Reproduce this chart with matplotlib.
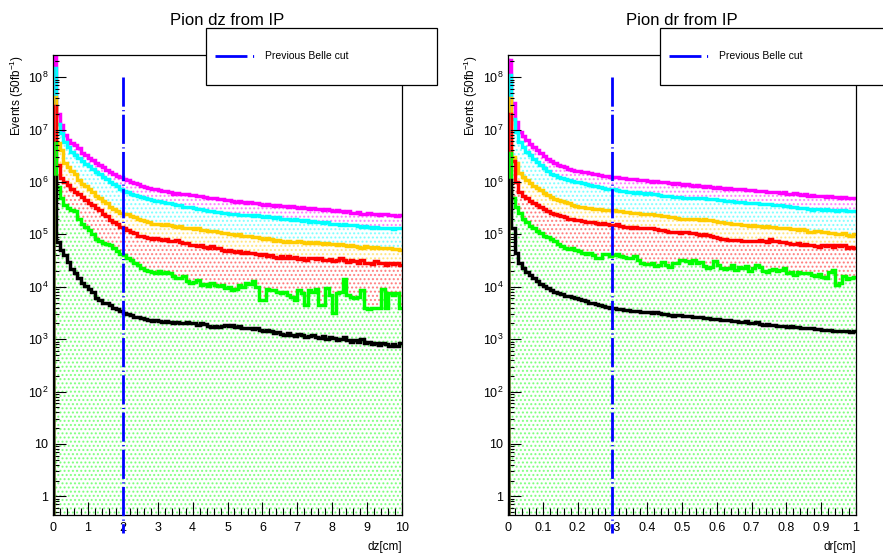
import numpy as np
import matplotlib
matplotlib.use('Agg')
import matplotlib.pyplot as plt
from matplotlib.patches import Rectangle
from matplotlib.lines import Line2D
from matplotlib.ticker import MultipleLocator, FixedLocator, FuncFormatter, NullFormatter

plt.rcParams['font.family'] = ['Liberation Sans', 'DejaVu Sans']
plt.rcParams['mathtext.fontset'] = 'custom'
plt.rcParams['mathtext.rm'] = 'Liberation Sans'
plt.rcParams['mathtext.it'] = 'Liberation Sans:italic'
plt.rcParams['hatch.linewidth'] = 1.0
plt.rcParams['lines.scale_dashes'] = False

# stacked totals per bin (100 bins)
# ---- dz panel, 0..10 cm
dz_magenta = [2.6e8, 2.0e7, 1.2e7, 7.8e6, 6.4e6, 5.5e6, 5.0e6, 4.4e6, 3.6e6, 3.2e6,
              2.9e6, 2.6e6, 2.3e6, 2.1e6, 1.9e6, 1.7e6, 1.55e6, 1.45e6, 1.3e6, 1.25e6,
              1.15e6, 1.07e6, 1.02e6, 9.5e5, 9.1e5, 8.5e5, 8.1e5, 7.8e5, 7.4e5, 7.2e5,
              6.9e5, 6.6e5, 6.6e5, 6.3e5, 6.0e5, 6.2e5, 5.9e5, 5.8e5, 5.9e5, 5.6e5,
              5.7e5, 5.4e5, 5.5e5, 5.2e5, 5.0e5, 4.9e5, 5.0e5, 4.7e5, 4.8e5, 4.5e5,
              4.6e5, 4.4e5, 4.2e5, 4.3e5, 4.1e5, 4.0e5, 4.1e5, 3.9e5, 4.0e5, 3.8e5,
              3.7e5, 3.8e5, 3.6e5, 3.5e5, 3.6e5, 3.5e5, 3.55e5, 3.4e5, 3.45e5, 3.3e5,
              3.2e5, 3.3e5, 3.2e5, 3.1e5, 3.2e5, 3.0e5, 3.1e5, 2.95e5, 3.0e5, 2.9e5,
              2.8e5, 2.9e5, 2.75e5, 2.7e5, 2.75e5, 2.6e5, 2.6e5, 2.65e5, 2.5e5, 2.45e5,
              2.55e5, 2.4e5, 2.45e5, 2.35e5, 2.5e5, 2.4e5, 2.3e5, 2.35e5, 2.25e5, 2.3e5]
dz_cyan = [1.5e8, 1.25e7, 8.5e6, 5.8e6, 4.6e6, 3.7e6, 3.3e6, 2.9e6, 2.5e6, 2.2e6,
           2.0e6, 1.8e6, 1.55e6, 1.4e6, 1.25e6, 1.12e6, 1.0e6, 9.2e5, 8.4e5, 7.5e5,
           6.8e5, 6.4e5, 6.0e5, 5.6e5, 5.5e5, 5.1e5, 4.9e5, 4.7e5, 4.6e5, 4.4e5,
           4.3e5, 4.1e5, 4.0e5, 3.9e5, 3.8e5, 3.7e5, 3.6e5, 3.4e5, 3.35e5, 3.3e5,
           3.25e5, 3.1e5, 3.0e5, 2.9e5, 2.85e5, 2.8e5, 2.7e5, 2.65e5, 2.6e5, 2.55e5,
           2.5e5, 2.4e5, 2.45e5, 2.35e5, 2.3e5, 2.3e5, 2.3e5, 2.25e5, 2.3e5, 2.2e5,
           2.15e5, 2.2e5, 2.1e5, 2.05e5, 2.1e5, 2.0e5, 2.0e5, 1.95e5, 1.9e5, 1.95e5,
           1.85e5, 1.8e5, 1.85e5, 1.75e5, 1.8e5, 1.72e5, 1.7e5, 1.65e5, 1.7e5, 1.6e5,
           1.58e5, 1.6e5, 1.52e5, 1.55e5, 1.5e5, 1.48e5, 1.5e5, 1.45e5, 1.4e5, 1.43e5,
           1.38e5, 1.35e5, 1.4e5, 1.33e5, 1.35e5, 1.3e5, 1.33e5, 1.28e5, 1.3e5, 1.3e5]
dz_orange = [4.2e7, 5.6e6, 4.0e6, 2.3e6, 1.9e6, 1.65e6, 1.4e6, 1.1e6, 9.3e5, 8.2e5,
             7.4e5, 6.3e5, 5.5e5, 4.9e5, 4.4e5, 3.9e5, 3.4e5, 3.1e5, 2.8e5, 2.6e5,
             2.5e5, 2.4e5, 2.2e5, 2.1e5, 2.0e5, 1.9e5, 1.8e5, 1.7e5, 1.6e5, 1.6e5,
             1.55e5, 1.5e5, 1.55e5, 1.48e5, 1.45e5, 1.4e5, 1.42e5, 1.35e5, 1.33e5, 1.3e5,
             1.27e5, 1.3e5, 1.22e5, 1.2e5, 1.18e5, 1.15e5, 1.17e5, 1.1e5, 1.06e5, 1.05e5,
             1.02e5, 1.0e5, 9.8e4, 1.0e5, 9.5e4, 9.2e4, 9.4e4, 8.8e4, 9.0e4, 8.6e4,
             8.3e4, 8.5e4, 8.0e4, 7.6e4, 7.8e4, 7.4e4, 7.2e4, 7.6e4, 7.3e4, 7.0e4,
             7.4e4, 7.1e4, 6.9e4, 7.2e4, 6.8e4, 7.0e4, 6.9e4, 6.6e4, 6.8e4, 6.5e4,
             6.6e4, 6.3e4, 6.5e4, 6.2e4, 6.0e4, 6.3e4, 6.0e4, 5.8e4, 5.5e4, 5.9e4,
             5.7e4, 5.5e4, 5.7e4, 5.4e4, 5.6e4, 5.5e4, 5.6e4, 5.3e4, 5.2e4, 5.0e4]
dz_red = [2.8e7, 2.1e6, 1.2e6, 1.0e6, 8.7e5, 7.5e5, 6.5e5, 5.8e5, 5.1e5, 4.6e5,
          4.0e5, 3.6e5, 3.2e5, 2.9e5, 2.5e5, 2.2e5, 1.9e5, 1.7e5, 1.55e5, 1.4e5,
          1.3e5, 1.2e5, 1.1e5, 1.05e5, 9.5e4, 9.2e4, 8.8e4, 8.5e4, 8.3e4, 8.6e4,
          8.0e4, 7.8e4, 8.1e4, 7.6e4, 7.4e4, 7.7e4, 7.0e4, 6.7e4, 6.9e4, 6.2e4,
          6.4e4, 6.0e4, 6.3e4, 5.8e4, 5.6e4, 5.9e4, 5.5e4, 5.4e4, 5.1e4, 4.9e4,
          5.1e4, 4.8e4, 4.6e4, 4.9e4, 4.5e4, 4.7e4, 4.4e4, 4.5e4, 4.2e4, 4.0e4,
          4.3e4, 3.9e4, 4.1e4, 3.7e4, 3.6e4, 3.9e4, 3.6e4, 3.8e4, 3.5e4, 3.7e4,
          3.4e4, 3.6e4, 3.3e4, 3.5e4, 3.6e4, 3.4e4, 3.5e4, 3.3e4, 3.2e4, 3.4e4,
          3.1e4, 3.3e4, 3.6e4, 3.2e4, 3.0e4, 3.3e4, 3.15e4, 2.9e4, 3.2e4, 2.8e4,
          2.9e4, 2.7e4, 3.1e4, 2.8e4, 2.9e4, 2.6e4, 2.9e4, 2.7e4, 2.8e4, 2.6e4]
dz_green = [5.5e6, 8.0e5, 5.0e5, 3.6e5, 3.2e5, 2.9e5, 2.8e5, 2.0e5, 1.6e5, 1.4e5,
            1.2e5, 1.0e5, 8.3e4, 7.5e4, 6.8e4, 6.5e4, 6.2e4, 5.5e4, 4.8e4, 4.3e4,
            4.0e4, 3.6e4, 3.2e4, 2.9e4, 2.6e4, 2.3e4, 2.1e4, 2.0e4, 1.9e4, 1.85e4,
            2.0e4, 1.8e4, 1.9e4, 1.8e4, 1.6e4, 1.5e4, 1.45e4, 1.6e4, 1.3e4, 1.2e4,
            1.25e4, 1.35e4, 1.1e4, 1.15e4, 1.05e4, 1.2e4, 1.1e4, 1.05e4, 1.1e4, 9.5e3,
            1.0e4, 8.5e3, 9.0e3, 1.1e4, 1.0e4, 1.2e4, 1.15e4, 1.3e4, 1.0e4, 5.5e3,
            5.5e3, 9.0e3, 8.5e3, 8.5e3, 8.0e3, 7.5e3, 8.0e3, 7.0e3, 6.5e3, 5.5e3,
            8.5e3, 7.5e3, 4.5e3, 8.5e3, 8.0e3, 9.0e3, 4.5e3, 4.5e3, 9.5e3, 7.0e3,
            3.1e3, 7.5e3, 8.0e3, 1.4e4, 7.0e3, 6.5e3, 6.0e3, 6.5e3, 8.5e3, 4.0e3,
            3.8e3, 4.0e3, 3.9e3, 4.0e3, 9.0e3, 4.0e3, 7.5e3, 7.0e3, 7.5e3, 4.0e3]
dz_black = [1.25e6, 7.0e4, 5.0e4, 4.0e4, 3.0e4, 2.2e4, 1.8e4, 1.5e4, 1.2e4, 1.05e4,
            9.0e3, 7.8e3, 6.2e3, 5.6e3, 5.0e3, 4.8e3, 4.4e3, 4.0e3, 3.7e3, 3.4e3,
            3.2e3, 3.0e3, 2.9e3, 2.7e3, 2.6e3, 2.5e3, 2.4e3, 2.3e3, 2.2e3, 2.3e3,
            2.2e3, 2.1e3, 2.2e3, 2.15e3, 2.0e3, 2.1e3, 2.05e3, 2.0e3, 2.1e3, 2.0e3,
            2.05e3, 1.9e3, 2.0e3, 1.95e3, 1.8e3, 1.7e3, 1.75e3, 1.7e3, 1.8e3, 1.9e3,
            1.8e3, 1.85e3, 1.7e3, 1.75e3, 1.6e3, 1.65e3, 1.6e3, 1.55e3, 1.6e3, 1.5e3,
            1.45e3, 1.5e3, 1.4e3, 1.3e3, 1.35e3, 1.25e3, 1.2e3, 1.3e3, 1.2e3, 1.15e3,
            1.25e3, 1.2e3, 1.1e3, 1.15e3, 1.2e3, 1.1e3, 1.05e3, 1.15e3, 1.0e3, 1.1e3,
            1.05e3, 9.5e2, 1.0e3, 1.1e3, 9.5e2, 9.0e2, 9.5e2, 9.0e2, 1.0e3, 8.5e2,
            9.0e2, 8.0e2, 8.5e2, 7.8e2, 8.5e2, 8.0e2, 7.5e2, 8.0e2, 7.5e2, 8.5e2]

# ---- dr panel, 0..1 cm
dr_magenta = [2.1e8, 3.2e7, 1.4e7, 8.9e6, 7.4e6, 6.3e6, 5.3e6, 4.6e6, 4.0e6, 3.5e6,
              3.1e6, 2.8e6, 2.5e6, 2.3e6, 2.15e6, 2.0e6, 1.9e6, 1.8e6, 1.72e6, 1.65e6,
              1.6e6, 1.55e6, 1.52e6, 1.48e6, 1.45e6, 1.4e6, 1.38e6, 1.32e6, 1.3e6, 1.25e6,
              1.23e6, 1.25e6, 1.2e6, 1.17e6, 1.15e6, 1.12e6, 1.13e6, 1.1e6, 1.07e6, 1.08e6,
              1.05e6, 1.02e6, 1.04e6, 1.0e6, 9.8e5, 9.9e5, 9.5e5, 9.3e5, 9.4e5, 9.1e5,
              8.9e5, 9.0e5, 8.7e5, 8.5e5, 8.6e5, 8.3e5, 8.1e5, 8.2e5, 7.9e5, 7.8e5,
              7.9e5, 7.6e5, 7.5e5, 7.6e5, 7.4e5, 7.3e5, 7.2e5, 7.2e5, 7.0e5, 6.9e5,
              7.0e5, 6.8e5, 6.7e5, 6.8e5, 6.5e5, 6.4e5, 6.5e5, 6.3e5, 6.2e5, 6.3e5,
              6.0e5, 5.9e5, 6.1e5, 5.8e5, 5.7e5, 5.8e5, 5.5e5, 5.6e5, 5.4e5, 5.5e5,
              5.3e5, 5.2e5, 5.3e5, 5.1e5, 5.2e5, 5.0e5, 5.1e5, 4.9e5, 5.0e5, 4.9e5]
dr_cyan = [1.1e8, 1.6e7, 8.9e6, 5.8e6, 4.6e6, 3.7e6, 3.2e6, 2.8e6, 2.4e6, 2.1e6,
           1.85e6, 1.65e6, 1.45e6, 1.35e6, 1.27e6, 1.2e6, 1.12e6, 1.08e6, 1.04e6, 1.0e6,
           9.8e5, 9.5e5, 9.1e5, 8.8e5, 8.5e5, 8.2e5, 8.0e5, 7.7e5, 7.5e5, 7.3e5,
           7.2e5, 7.0e5, 6.8e5, 6.6e5, 6.4e5, 6.3e5, 6.2e5, 6.3e5, 6.1e5, 6.0e5,
           6.1e5, 6.0e5, 5.8e5, 5.7e5, 5.5e5, 5.4e5, 5.3e5, 5.2e5, 5.1e5, 5.15e5,
           5.0e5, 5.0e5, 4.9e5, 5.0e5, 4.9e5, 4.85e5, 4.9e5, 4.8e5, 4.8e5, 4.7e5,
           4.6e5, 4.5e5, 4.4e5, 4.35e5, 4.3e5, 4.2e5, 4.15e5, 4.1e5, 4.05e5, 4.0e5,
           3.95e5, 3.9e5, 3.85e5, 3.8e5, 3.8e5, 3.75e5, 3.7e5, 3.7e5, 3.6e5, 3.5e5,
           3.45e5, 3.4e5, 3.3e5, 3.2e5, 3.25e5, 3.15e5, 3.1e5, 2.9e5, 3.0e5, 3.05e5,
           2.95e5, 3.0e5, 2.9e5, 2.95e5, 2.85e5, 2.9e5, 2.9e5, 2.8e5, 2.75e5, 2.8e5]
dr_orange = [4.0e7, 3.0e6, 2.3e6, 1.5e6, 1.25e6, 1.07e6, 9.5e5, 8.5e5, 7.6e5, 6.9e5,
             6.2e5, 5.6e5, 5.1e5, 4.8e5, 4.5e5, 4.3e5, 4.1e5, 3.9e5, 3.7e5, 3.55e5,
             3.4e5, 3.3e5, 3.25e5, 3.2e5, 3.1e5, 3.05e5, 3.0e5, 2.95e5, 2.95e5, 2.9e5,
             2.9e5, 2.8e5, 2.75e5, 2.7e5, 2.65e5, 2.6e5, 2.6e5, 2.55e5, 2.5e5, 2.45e5,
             2.45e5, 2.4e5, 2.35e5, 2.3e5, 2.25e5, 2.2e5, 2.15e5, 2.1e5, 2.05e5, 2.0e5,
             2.0e5, 2.0e5, 1.95e5, 2.0e5, 1.95e5, 1.9e5, 1.95e5, 1.85e5, 1.86e5, 1.8e5,
             1.75e5, 1.7e5, 1.65e5, 1.62e5, 1.6e5, 1.55e5, 1.55e5, 1.5e5, 1.5e5, 1.45e5,
             1.48e5, 1.45e5, 1.42e5, 1.4e5, 1.42e5, 1.38e5, 1.36e5, 1.35e5, 1.33e5, 1.3e5,
             1.32e5, 1.28e5, 1.25e5, 1.22e5, 1.25e5, 1.2e5, 1.1e5, 1.12e5, 1.18e5, 1.15e5,
             1.12e5, 1.1e5, 1.05e5, 1.08e5, 1.02e5, 1.0e5, 1.04e5, 9.8e4, 9.3e4, 1.0e5]
dr_red = [2.0e7, 2.5e6, 1.0e6, 6.3e5, 5.5e5, 4.9e5, 4.3e5, 3.9e5, 3.6e5, 3.3e5,
          3.0e5, 2.8e5, 2.6e5, 2.45e5, 2.3e5, 2.2e5, 2.1e5, 2.0e5, 1.95e5, 1.9e5,
          1.86e5, 1.8e5, 1.75e5, 1.72e5, 1.7e5, 1.65e5, 1.6e5, 1.62e5, 1.55e5, 1.52e5,
          1.5e5, 1.55e5, 1.45e5, 1.4e5, 1.38e5, 1.35e5, 1.37e5, 1.33e5, 1.3e5, 1.32e5,
          1.3e5, 1.3e5, 1.25e5, 1.22e5, 1.2e5, 1.15e5, 1.12e5, 1.1e5, 1.1e5, 1.08e5,
          1.1e5, 1.1e5, 1.05e5, 1.08e5, 1.0e5, 9.8e4, 1.02e5, 9.6e4, 9.5e4, 9.0e4,
          8.5e4, 8.2e4, 8.0e4, 7.8e4, 7.9e4, 7.7e4, 7.8e4, 7.6e4, 7.6e4, 7.5e4,
          7.6e4, 7.5e4, 7.7e4, 7.5e4, 7.2e4, 8.0e4, 7.4e4, 7.5e4, 7.0e4, 7.1e4,
          6.9e4, 6.6e4, 6.5e4, 6.8e4, 6.3e4, 6.5e4, 6.2e4, 6.3e4, 6.0e4, 5.8e4,
          6.3e4, 6.0e4, 6.2e4, 5.8e4, 6.4e4, 6.0e4, 6.2e4, 5.5e4, 5.8e4, 5.5e4]
dr_green = [3.5e6, 4.9e5, 3.4e5, 2.6e5, 2.0e5, 1.7e5, 1.45e5, 1.3e5, 1.15e5, 1.05e5,
            9.5e4, 8.8e4, 8.3e4, 7.4e4, 6.6e4, 6.0e4, 5.6e4, 5.2e4, 5.5e4, 5.0e4,
            4.9e4, 4.5e4, 4.2e4, 4.4e4, 4.0e4, 3.6e4, 3.5e4, 4.3e4, 4.2e4, 3.9e4,
            4.0e4, 4.2e4, 3.8e4, 3.7e4, 3.5e4, 3.6e4, 3.8e4, 3.3e4, 2.8e4, 2.7e4,
            2.75e4, 2.8e4, 2.5e4, 2.6e4, 3.0e4, 2.6e4, 2.4e4, 2.9e4, 2.9e4, 3.2e4,
            3.3e4, 3.1e4, 2.9e4, 3.2e4, 2.9e4, 3.0e4, 2.5e4, 2.3e4, 2.4e4, 3.1e4,
            2.6e4, 2.3e4, 2.2e4, 2.3e4, 2.6e4, 2.1e4, 2.4e4, 2.3e4, 2.5e4, 2.0e4,
            2.3e4, 2.6e4, 2.4e4, 2.0e4, 1.9e4, 2.1e4, 2.2e4, 2.0e4, 2.1e4, 2.3e4,
            1.8e4, 1.9e4, 1.7e4, 1.9e4, 1.8e4, 1.85e4, 1.8e4, 1.7e4, 1.6e4, 1.75e4,
            1.55e4, 1.5e4, 1.9e4, 2.1e4, 1.1e4, 1.2e4, 1.6e4, 1.4e4, 1.5e4, 1.55e4]
dr_black = [1.1e6, 1.3e5, 4.5e4, 2.9e4, 2.3e4, 1.9e4, 1.65e4, 1.45e4, 1.3e4, 1.15e4,
            1.05e4, 9.3e3, 8.5e3, 8.0e3, 7.6e3, 7.2e3, 6.8e3, 6.6e3, 6.3e3, 6.0e3,
            5.8e3, 5.5e3, 5.3e3, 5.0e3, 4.8e3, 4.6e3, 4.5e3, 4.3e3, 4.1e3, 4.0e3,
            3.9e3, 3.8e3, 3.75e3, 3.6e3, 3.55e3, 3.5e3, 3.45e3, 3.4e3, 3.35e3, 3.3e3,
            3.25e3, 3.2e3, 3.3e3, 3.1e3, 3.0e3, 3.05e3, 2.9e3, 2.8e3, 2.85e3, 2.9e3,
            2.8e3, 2.75e3, 2.8e3, 2.7e3, 2.6e3, 2.65e3, 2.5e3, 2.55e3, 2.45e3, 2.4e3,
            2.45e3, 2.35e3, 2.3e3, 2.35e3, 2.25e3, 2.2e3, 2.15e3, 2.1e3, 2.2e3, 2.05e3,
            2.0e3, 2.1e3, 1.95e3, 1.9e3, 1.95e3, 1.85e3, 1.9e3, 1.8e3, 1.75e3, 1.8e3,
            1.7e3, 1.75e3, 1.68e3, 1.7e3, 1.65e3, 1.6e3, 1.65e3, 1.6e3, 1.55e3, 1.58e3,
            1.5e3, 1.48e3, 1.52e3, 1.45e3, 1.4e3, 1.45e3, 1.45e3, 1.4e3, 1.38e3, 1.4e3]

dz_cut = 2.0
dr_cut = 0.3
legend_label = 'Previous Belle cut'
y_decades = [1, 10, 1e2, 1e3, 1e4, 1e5, 1e6, 1e7, 1e8]

colors = {'magenta': '#ff00ff', 'cyan': '#00ffff', 'orange': '#ffcc00',
          'red': '#ff0000', 'green': '#00ff00', 'black': '#000000'}

W, H = 883, 557
fig = plt.figure(figsize=(W / 100, H / 100), dpi=100)

YMIN, YMAX = 0.44, 2.65e8
FLOOR = 0.1


def px(x0, y0, x1, y1):
    return [x0 / W, 1 - y1 / H, (x1 - x0) / W, (y1 - y0) / H]


def log_label(v, pos):
    e = int(round(np.log10(v)))
    if e == 0:
        return '1'
    if e == 1:
        return '10'
    return r'$10^{%d}$' % e


def draw_panel(rect, edges, layers, cut, major, minor, xlabel, title, lab_x, leg_x):
    ax = fig.add_axes(px(*rect))
    ax.set_yscale('log')
    ax.set_xlim(edges[0], edges[-1])
    ax.set_ylim(YMIN, YMAX)

    # dotted fills, each band between its own total and the one below
    lower = np.full(len(edges) - 1, FLOOR)
    for name in ['green', 'red', 'orange', 'cyan', 'magenta']:
        vals = np.array(layers[name])
        ax.stairs(vals, edges, baseline=lower, fill=True, facecolor='none',
                  edgecolor=colors[name], hatch='....', lw=0, alpha=0.45)
        lower = vals

    # outlines, biggest first
    for name in ['magenta', 'cyan', 'orange', 'red', 'green', 'black']:
        vals = np.array(layers[name])
        ax.stairs(vals, edges, baseline=None, color=colors[name], lw=2.5)
        ax.plot([edges[0], edges[0]], [FLOOR, vals[0]], color=colors[name], lw=2.5)

    ax.plot([cut, cut], [1e8, 0.2], color='#0000ff', lw=2.0,
            dashes=(21, 2.5, 0.8, 2.5), clip_on=False, zorder=4)

    ax.xaxis.set_major_locator(MultipleLocator(major))
    ax.xaxis.set_minor_locator(MultipleLocator(minor))
    ax.xaxis.set_major_formatter(FuncFormatter(lambda v, p: '%g' % round(v, 3)))
    minors = [d * k for d in y_decades for k in range(2, 10)] + [0.5, 0.6, 0.7, 0.8, 0.9]
    ax.yaxis.set_major_locator(FixedLocator(y_decades))
    ax.yaxis.set_minor_locator(FixedLocator([m for m in minors if m < YMAX]))
    ax.yaxis.set_major_formatter(FuncFormatter(log_label))
    ax.yaxis.set_minor_formatter(NullFormatter())
    ax.tick_params(which='both', direction='in', top=False, right=False,
                   labelsize=9, width=0.8)
    ax.tick_params(axis='x', which='major', length=9.5, pad=5)
    ax.tick_params(axis='x', which='minor', length=5)
    ax.tick_params(axis='y', which='major', length=9, pad=3.5)
    ax.tick_params(axis='y', which='minor', length=4.5)
    for s in ax.spines.values():
        s.set_linewidth(0.9)

    x0, y0, x1, y1 = rect
    fig.text((x0 + x1) / 2 / W, 1 - 25 / H, title, ha='center', va='baseline', fontsize=12)
    fig.text(x1 / W, 1 - 547 / H, xlabel, ha='right', va='center', fontsize=8.5)
    fig.text(lab_x / W, 1 - 55 / H, r'Events (50fb$^{-1}$)', rotation=90,
             ha='center', va='top', fontsize=8.5)

    # legend box sitting over the frame
    fig.add_artist(Rectangle((leg_x / W, 1 - 85 / H), 231 / W, 57 / H,
                             transform=fig.transFigure, facecolor='white',
                             edgecolor='black', lw=0.9, zorder=10))
    fig.add_artist(Line2D([(leg_x + 9) / W, (leg_x + 51) / W], [1 - 56 / H, 1 - 56 / H],
                          transform=fig.transFigure, color='#0000ff', lw=2.0,
                          dashes=(23, 4, 0.8, 4), zorder=11))
    fig.text((leg_x + 59) / W, 1 - 56 / H, legend_label, ha='left', va='center',
             fontsize=7.5, zorder=12)
    return ax


dz_layers = {'magenta': dz_magenta, 'cyan': dz_cyan, 'orange': dz_orange,
             'red': dz_red, 'green': dz_green, 'black': dz_black}
dr_layers = {'magenta': dr_magenta, 'cyan': dr_cyan, 'orange': dr_orange,
             'red': dr_red, 'green': dr_green, 'black': dr_black}

draw_panel((53, 55, 402, 515), np.linspace(0, 10, 101), dz_layers, dz_cut,
           1, 0.2, 'dz[cm]', 'Pion dz from IP', 17, 206)
draw_panel((508, 55, 856, 515), np.linspace(0, 1, 101), dr_layers, dr_cut,
           0.1, 0.02, 'dr[cm]', 'Pion dr from IP', 471, 660)

fig.savefig('out.png', dpi=100)
